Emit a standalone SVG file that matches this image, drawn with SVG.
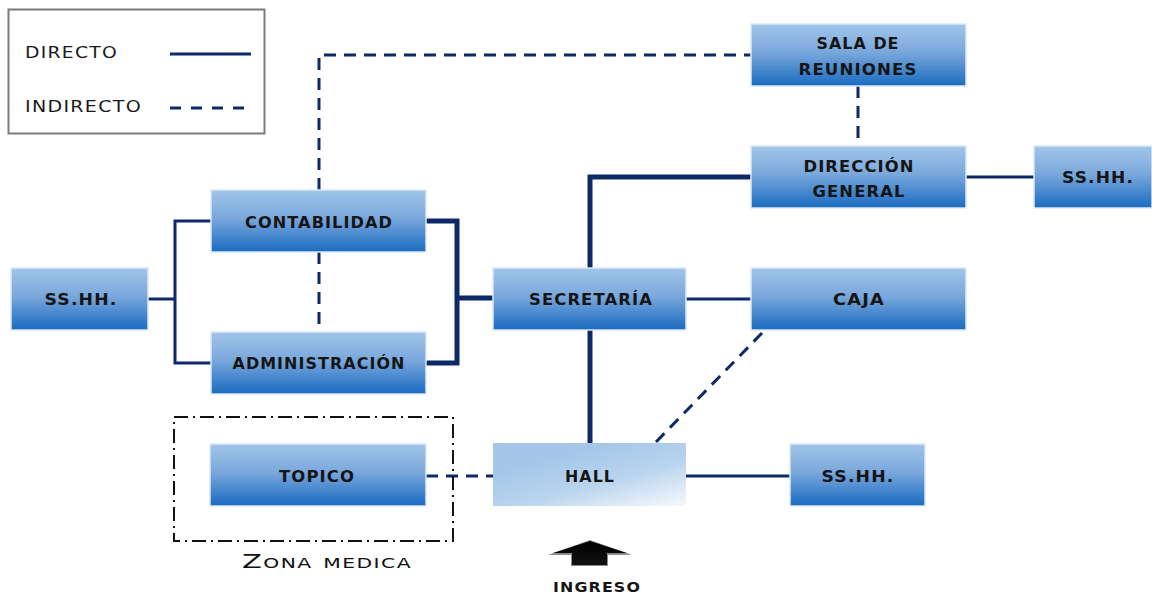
<svg xmlns="http://www.w3.org/2000/svg" width="1152" height="593" viewBox="0 0 1152 593">
  <defs>
    <linearGradient id="boxFill" x1="0" y1="0" x2="0" y2="1">
      <stop offset="0" stop-color="#a2c5e8"/>
      <stop offset="0.45" stop-color="#7aa8dc"/>
      <stop offset="1" stop-color="#1a6bc0"/>
    </linearGradient>
    <linearGradient id="hallFill" x1="0.35" y1="0.2" x2="1" y2="1">
      <stop offset="0" stop-color="#a4c7e9"/>
      <stop offset="0.45" stop-color="#b9d4ee"/>
      <stop offset="1" stop-color="#f7f9fc"/>
    </linearGradient>
    <linearGradient id="arrowFill" x1="0" y1="0" x2="0" y2="1">
      <stop offset="0" stop-color="#000"/>
      <stop offset="1" stop-color="#111"/>
    </linearGradient>
    <style>
      .box { fill: url(#boxFill); stroke: #dce9f6; stroke-width: 1.5; }
      .lbl { font-family: "DejaVu Sans", "Liberation Sans", sans-serif; font-weight: bold; font-size: 15px; letter-spacing: 1px; fill: #151515; text-anchor: middle; }
      .leg { font-family: "DejaVu Sans", "Liberation Sans", sans-serif; font-size: 15px; letter-spacing: 1px; fill: #1a1a1a; }
      .thin { stroke: #0d2a66; stroke-width: 3; fill: none; }
      .thick { stroke: #0d2a66; stroke-width: 5; fill: none; }
      .dash { stroke: #0d2a66; stroke-width: 3; fill: none; stroke-dasharray: 12 8; }
    </style>
  </defs>

  <rect width="1152" height="593" fill="#ffffff"/>

  <!-- Legend -->
  <g id="legend">
    <rect x="8.5" y="9.5" width="256" height="124" fill="#fff" stroke="#7a7a7a" stroke-width="2"/>
    <text class="leg" x="25" y="58" textLength="93" lengthAdjust="spacingAndGlyphs">DIRECTO</text>
    <text class="leg" x="25" y="112" textLength="117" lengthAdjust="spacingAndGlyphs">INDIRECTO</text>
    <line class="thin" x1="170" y1="54" x2="251" y2="54"/>
    <line class="thin" x1="170" y1="108" x2="250" y2="108" stroke-dasharray="11 10"/>
  </g>

  <!-- Connectors -->
  <g id="connectors">
    <polyline class="dash" points="319,190 319,55 751,55"/>
    <line class="dash" x1="319" y1="252" x2="319" y2="332"/>
    <line class="dash" x1="858" y1="86" x2="858" y2="146"/>
    <polyline class="thin" points="211,221 175,221 175,363 211,363"/>
    <line class="thin" x1="148" y1="299" x2="175" y2="299"/>
    <polyline class="thick" points="426,221 457,221 457,363 426,363"/>
    <line class="thick" x1="457" y1="298" x2="493" y2="298"/>
    <polyline class="thick" points="590,268 590,177 751,177"/>
    <line class="thin" x1="966" y1="177" x2="1034" y2="177"/>
    <line class="thin" x1="686" y1="299" x2="751" y2="299"/>
    <line class="thick" x1="590" y1="330" x2="590" y2="443"/>
    <line class="dash" x1="762" y1="333" x2="655" y2="443"/>
    <line class="dash" x1="426" y1="476" x2="493" y2="476"/>
    <line class="thin" x1="686" y1="476" x2="790" y2="476"/>
  </g>

  <!-- Medical zone -->
  <g id="zona-medica">
    <rect x="174" y="417" width="279" height="124" fill="none" stroke="#111" stroke-width="2" stroke-dasharray="14 5 2 5"/>
    <text x="242" y="568" textLength="170" lengthAdjust="spacingAndGlyphs" font-family="DejaVu Sans, Liberation Sans, sans-serif" font-size="20" fill="#111" style="font-variant: small-caps; letter-spacing: 1px;">Zona medica</text>
  </g>

  <g id="sala-reuniones">
    <rect class="box" x="751" y="24" width="215" height="62"/>
    <text class="lbl" x="858" y="49" textLength="83" lengthAdjust="spacingAndGlyphs">SALA DE</text>
    <text class="lbl" x="858" y="75" textLength="119" lengthAdjust="spacingAndGlyphs">REUNIONES</text>
  </g>

  <g id="direccion-general">
    <rect class="box" x="751" y="146" width="215" height="62"/>
    <text class="lbl" x="859" y="172" textLength="111" lengthAdjust="spacingAndGlyphs">DIRECCIÓN</text>
    <text class="lbl" x="859" y="197" textLength="93" lengthAdjust="spacingAndGlyphs">GENERAL</text>
  </g>

  <g id="sshh-direccion">
    <rect class="box" x="1034" y="146" width="118" height="62"/>
    <text class="lbl" x="1098" y="183" textLength="72" lengthAdjust="spacingAndGlyphs">SS.HH.</text>
  </g>

  <g id="contabilidad">
    <rect class="box" x="211" y="190" width="215" height="62"/>
    <text class="lbl" x="319" y="228" textLength="148" lengthAdjust="spacingAndGlyphs">CONTABILIDAD</text>
  </g>

  <g id="administracion">
    <rect class="box" x="211" y="332" width="215" height="62"/>
    <text class="lbl" x="319" y="369" textLength="173" lengthAdjust="spacingAndGlyphs">ADMINISTRACIÓN</text>
  </g>

  <g id="sshh-oficinas">
    <rect class="box" x="11" y="268" width="137" height="62"/>
    <text class="lbl" x="81" y="305" textLength="73" lengthAdjust="spacingAndGlyphs">SS.HH.</text>
  </g>

  <g id="secretaria">
    <rect class="box" x="493" y="268" width="193" height="62"/>
    <text class="lbl" x="591" y="305" textLength="124" lengthAdjust="spacingAndGlyphs">SECRETARÍA</text>
  </g>

  <g id="caja">
    <rect class="box" x="751" y="268" width="215" height="62"/>
    <text class="lbl" x="859" y="305" textLength="52" lengthAdjust="spacingAndGlyphs">CAJA</text>
  </g>

  <g id="topico">
    <rect class="box" x="210" y="444" width="216" height="62"/>
    <text class="lbl" x="317" y="482" textLength="76" lengthAdjust="spacingAndGlyphs">TOPICO</text>
  </g>

  <g id="hall">
    <rect x="493" y="443" width="193" height="63" fill="url(#hallFill)"/>
    <text class="lbl" x="590" y="482" textLength="50" lengthAdjust="spacingAndGlyphs">HALL</text>
  </g>

  <g id="sshh-hall">
    <rect class="box" x="790" y="444" width="135" height="62"/>
    <text class="lbl" x="858" y="482" textLength="73" lengthAdjust="spacingAndGlyphs">SS.HH.</text>
  </g>

  <!-- Entrance -->
  <g id="ingreso">
    <polygon points="548,555 590,540 632,555 608,555 608,566 571,566 571,555" fill="#8a8a8a"/>
    <polygon points="553,553 590,541 627,553 607,553 607,565 572,565 572,553" fill="url(#arrowFill)"/>
    <text x="597" y="592" text-anchor="middle" textLength="88" lengthAdjust="spacingAndGlyphs" font-family="DejaVu Sans, Liberation Sans, sans-serif" font-weight="bold" font-size="14" letter-spacing="1" fill="#151515">INGRESO</text>
  </g>
</svg>
